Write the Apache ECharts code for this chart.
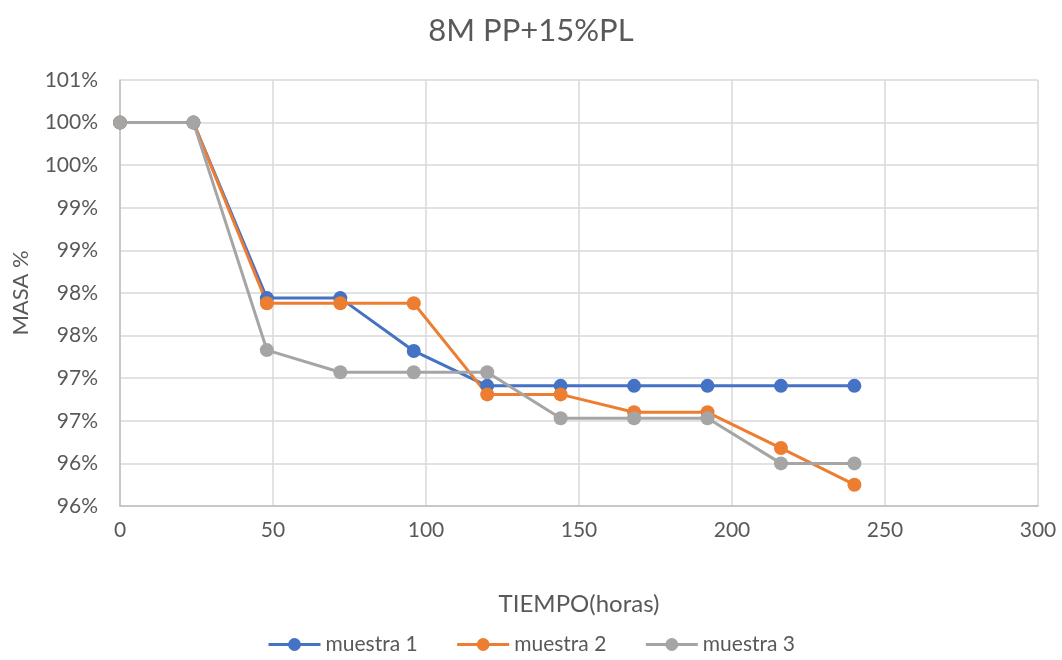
<!DOCTYPE html>
<html>
<head>
<meta charset="utf-8">
<script src="https://cdn.jsdelivr.net/npm/echarts@6/dist/echarts.min.js"></script>
<style>html,body{margin:0;padding:0;background:#fff}#c{width:1062px;height:660px}</style>
</head>
<body>
<div id="c"></div>
<script>
var hours = [0, 24, 48, 72, 96, 120, 144, 168, 192, 216, 240];
var muestra1 = [100, 100, 97.94, 97.94, 97.32, 96.91, 96.91, 96.91, 96.91, 96.91, 96.91];
var muestra2 = [100, 100, 97.88, 97.88, 97.88, 96.81, 96.81, 96.60, 96.60, 96.18, 95.75];
var muestra3 = [100, 100, 97.33, 97.07, 97.07, 97.07, 96.53, 96.53, 96.53, 96.00, 96.00];
var seriesNames = ['muestra 1', 'muestra 2', 'muestra 3'];
var colors = ['#4472C4', '#ED7D31', '#A5A5A5'];

function pairs(vals) { return hours.map(function (h, i) { return [h, vals[i]]; }); }
var font = 'Lato, "Liberation Sans", sans-serif';
var chart = echarts.init(document.getElementById('c'));
chart.setOption({
  animation: false,
  color: colors,
  title: {
    text: '8M PP+15%PL', left: 'center', top: 10,
    textStyle: { fontFamily: font, fontSize: 31, fontWeight: 'normal', color: '#595959' }
  },
  grid: { left: 120, right: 24, top: 80, bottom: 154 },
  legend: {
    bottom: 0, left: 'center', itemWidth: 52, itemHeight: 16, itemGap: 38,
    data: seriesNames,
    lineStyle: { width: 3 },
    textStyle: { fontFamily: font, fontSize: 21, color: '#595959' }
  },
  xAxis: {
    type: 'value', min: 0, max: 300, interval: 50,
    name: 'TIEMPO(horas)', nameLocation: 'middle', nameGap: 86,
    nameTextStyle: { fontFamily: font, fontSize: 24, color: '#595959' },
    axisLine: { show: true, lineStyle: { color: '#BFBFBF', width: 1.5 } },
    axisTick: { show: false },
    axisLabel: { fontFamily: font, fontSize: 21, color: '#595959', margin: 14 },
    splitLine: { show: true, lineStyle: { color: '#D9D9D9', width: 1.5 } }
  },
  yAxis: {
    type: 'value', min: 95.5, max: 100.5, interval: 0.5,
    name: 'MASA %', nameLocation: 'middle', nameGap: 88, nameRotate: 90,
    nameTextStyle: { fontFamily: font, fontSize: 22, color: '#595959' },
    axisLine: { show: true, lineStyle: { color: '#BFBFBF', width: 1.5 } },
    axisTick: { show: false },
    axisLabel: {
      fontFamily: font, fontSize: 21, color: '#595959', margin: 22,
      formatter: function (v) { return Math.round(v) + '%'; }
    },
    splitLine: { show: true, lineStyle: { color: '#D9D9D9', width: 1.5 } }
  },
  series: [muestra1, muestra2, muestra3].map(function (vals, i) {
    return {
      name: seriesNames[i], type: 'line', data: pairs(vals),
      symbol: 'circle', symbolSize: 14,
      lineStyle: { width: 3, color: colors[i] },
      itemStyle: { color: colors[i] }
    };
  })
});
</script>
</body>
</html>
